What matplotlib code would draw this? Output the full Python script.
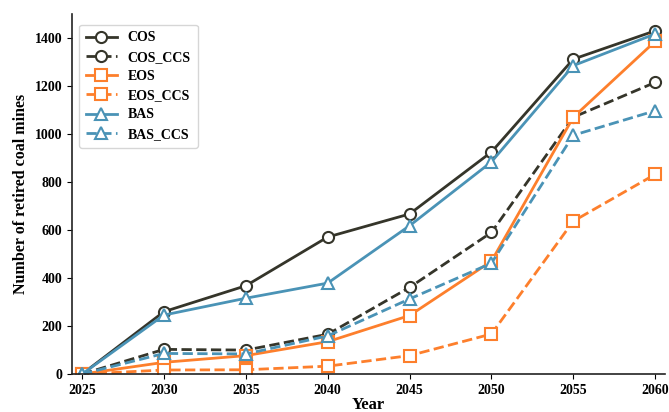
import matplotlib
matplotlib.use("Agg")
import matplotlib.pyplot as plt

years = [2025, 2030, 2035, 2040, 2045, 2050, 2055, 2060]

cos = [0, 260, 368, 571, 667, 925, 1312, 1430]
cos_ccs = [0, 103, 100, 166, 361, 590, 1070, 1215]
eos = [0, 49, 77, 135, 244, 470, 1070, 1386]
eos_ccs = [0, 17, 18, 33, 77, 167, 637, 832]
bas = [0, 246, 316, 379, 618, 884, 1285, 1417]
bas_ccs = [0, 86, 84, 159, 313, 462, 995, 1097]

series = [
    ("COS", cos, "#35352a", "o", "-"),
    ("COS_CCS", cos_ccs, "#35352a", "o", "--"),
    ("EOS", eos, "#fd7f2c", "s", "-"),
    ("EOS_CCS", eos_ccs, "#fd7f2c", "s", "--"),
    ("BAS", bas, "#4a93b6", "^", "-"),
    ("BAS_CCS", bas_ccs, "#4a93b6", "^", "--"),
]

plt.rcParams["font.family"] = ["Liberation Serif", "DejaVu Serif"]
plt.rcParams["font.weight"] = "bold"

fig = plt.figure(figsize=(6.69, 4.12), dpi=100)
ax = fig.add_axes([0.108, 0.092, 0.886, 0.874])

for name, vals, color, marker, ls in series:
    ax.plot(years, vals, linestyle=ls, color=color, marker=marker,
            markersize=8, markerfacecolor="white", markeredgecolor=color,
            markeredgewidth=1.5, linewidth=2, label=name)

ax.set_xlim(2024.4, 2060.6)
ax.set_ylim(0, 1500)
ax.set_xticks(years)
ax.set_yticks(range(0, 1401, 200))
for lbl in ax.get_xticklabels() + ax.get_yticklabels():
    lbl.set_fontweight("bold")
    lbl.set_fontsize(10)

ax.set_xlabel("Year", fontsize=12, fontweight="bold", labelpad=0)
ax.set_ylabel("Number of retired coal mines", fontsize=11.5, fontweight="bold")

ax.spines["top"].set_visible(False)
ax.spines["right"].set_visible(False)
for s in ("left", "bottom"):
    ax.spines[s].set_linewidth(1.2)
    ax.spines[s].set_color("#222222")

ax.legend(loc="upper left", prop={"weight": "bold", "size": 10},
          handlelength=2.2, borderpad=0.5, labelspacing=0.45,
          bbox_to_anchor=(0.0, 0.99))

fig.savefig("out.png", dpi=100)
